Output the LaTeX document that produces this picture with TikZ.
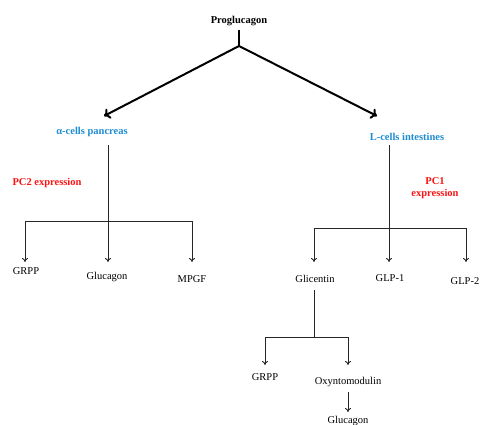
\documentclass[tikz,border=0pt]{standalone}
\usepackage{fontspec}
\setmainfont{Liberation Serif}
\usetikzlibrary{arrows.meta}
\definecolor{lblue}{RGB}{30,140,210}
\definecolor{lred}{RGB}{250,20,20}
\begin{document}
\begin{tikzpicture}[x=1pt,y=-1pt,
  lbl/.style={font=\fontsize{10.5}{11.5}\selectfont, inner sep=1pt},
  blbl/.style={lbl, text=lblue, font=\fontsize{10.5}{11.5}\selectfont\bfseries},
  rlbl/.style={lbl, text=lred, font=\fontsize{10.5}{11.5}\selectfont\bfseries, align=center},
  thin/.style={draw=black!85, line width=0.9pt},
  thinarr/.style={thin, -{To[length=4pt,width=6pt]}},
  thickarr/.style={draw=black, line width=2pt, -{To[length=6pt,width=11pt]}}]
\useasboundingbox (0,0) rectangle (482,425);
% nodes
\node[lbl, font=\fontsize{10.5}{11.5}\selectfont\bfseries] (pro) at (239,21) {Proglucagon};
\node[blbl] (alpha) at (92,132) {α-cells pancreas};
\node[blbl] (lcell) at (407,137) {L-cells intestines};
\node[rlbl] (pc2) at (47,183) {PC2 expression};
\node[rlbl] (pc1) at (435,188) {PC1\\expression};
\node[lbl] (grppa) at (26,271) {GRPP};
\node[lbl] (gluca) at (107,277) {Glucagon};
\node[lbl] (mpgf) at (192,279) {MPGF};
\node[lbl] (glic) at (315,279) {Glicentin};
\node[lbl] (glpa) at (390,278) {GLP-1};
\node[lbl] (glpb) at (465,281) {GLP-2};
\node[lbl] (grppb) at (265,377) {GRPP};
\node[lbl] (oxy) at (348,382) {Oxyntomodulin};
\node[lbl] (glucb) at (348,421) {Glucagon};
% coordinates
\coordinate (pj) at (239,46);
\coordinate (ta) at (104,116);
\coordinate (tb) at (377,116);
\coordinate (as) at (108,145);
\coordinate (aj) at (108,221);
\coordinate (al) at (25,221);
\coordinate (ar) at (192,221);
\coordinate (ls) at (389,145);
\coordinate (lj) at (389,228);
\coordinate (ll) at (314,228);
\coordinate (lr) at (466,228);
\coordinate (gs) at (314,290);
\coordinate (gj) at (314,337);
\coordinate (gl) at (265,337);
\coordinate (gr) at (348,337);
% main split
\draw[draw=black, line width=1.2pt] (239,30) -- (pj);
\draw[thickarr] (pj) -- (ta);
\draw[thickarr] (pj) -- (tb);
% left tree
\draw[thin] (as) -- (aj);
\draw[thin] (al) -- (ar);
\draw[thinarr] (al) -- (25,262);
\draw[thinarr] (aj) -- (108,262);
\draw[thinarr] (ar) -- (192,262);
% right tree
\draw[thin] (ls) -- (lj);
\draw[thin] (ll) -- (lr);
\draw[thinarr] (ll) -- (314,262);
\draw[thinarr] (lj) -- (389,262);
\draw[thinarr] (lr) -- (466,262);
% glicentin tree
\draw[thin] (gs) -- (gj);
\draw[thin] (gl) -- (gr);
\draw[thinarr] (gl) -- (265,365);
\draw[thinarr] (gr) -- (348,365);
\draw[thinarr] (348,392) -- (348,412);
\end{tikzpicture}
\end{document}
